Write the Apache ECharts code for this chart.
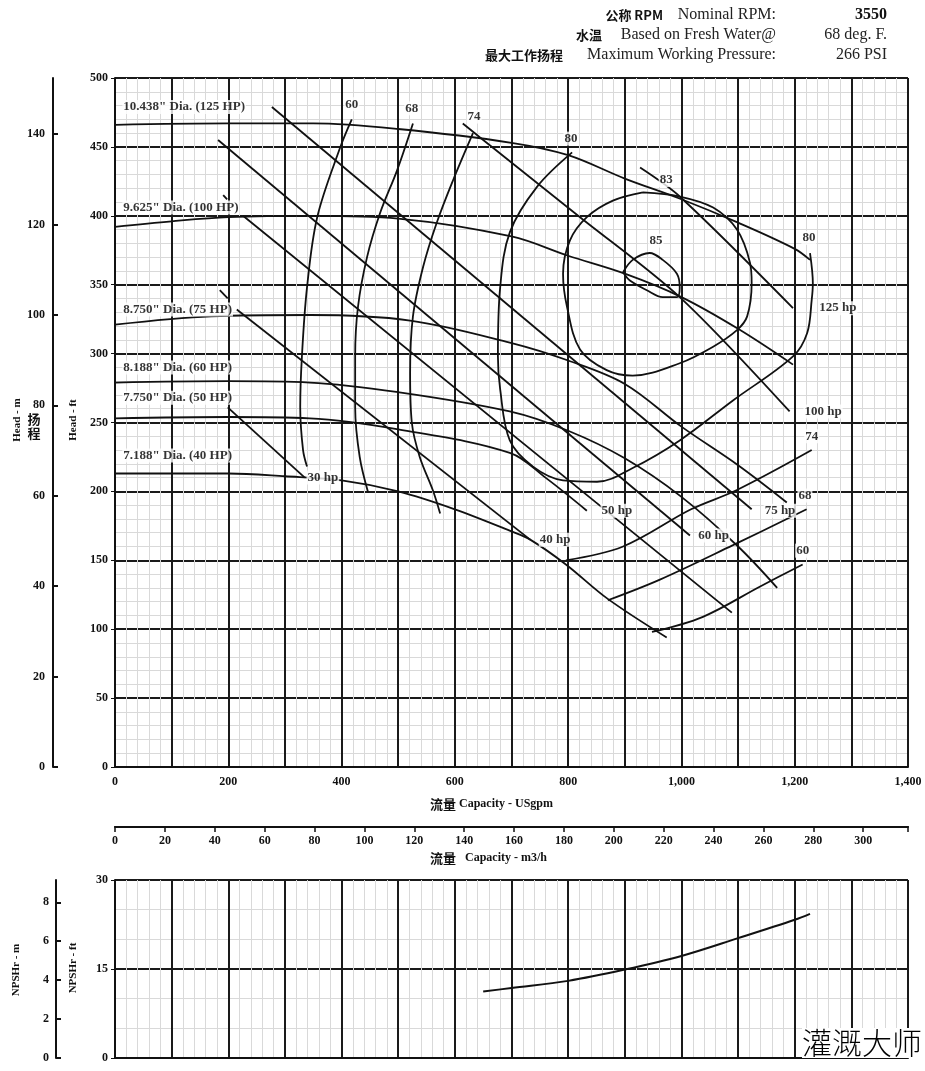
<!DOCTYPE html>
<html><head><meta charset="utf-8">
<script src="https://cdn.jsdelivr.net/npm/echarts@6/dist/echarts.min.js"></script>
<style>html,body{margin:0;padding:0;background:#fff}#c{width:925px;height:1071px}</style>
</head><body><div id="c"></div>
<script>
// ---- Head curves (US gpm, ft) ----
const dia10438 = [[0,466],[200,467],[350,467],[500,463],[700,453],[800,444],[900,427],[1000,412],[1100,395],[1200,376],[1227,368]];
const dia9625  = [[0,392],[100,396],[200,399],[350,400],[500,398],[700,385],[800,371],[900,358],[1000,341],[1100,318],[1197,292]];
const dia8750  = [[0,321],[170,327],[344,328],[521,324],[697,308],[800,295],[900,278],[1000,247],[1100,219],[1186,192]];
const dia8188  = [[0,279],[200,280],[344,279],[500,272],[697,258],[800,244],[900,224],[1000,196],[1100,160],[1169,130]];
const dia7750  = [[0,253],[200,254],[344,253],[500,245],[697,228],[760,210],[833,186]];
const dia7188  = [[0,213],[200,213],[300,211],[400,208],[500,200],[600,187],[700,171],[733,165],[796,147],[870,122],[974,94]];
// ---- Power lines ----
const hp30  = [[199,261],[335,210]];
const hp40  = [[215,332],[733,165]];
const hp50  = [[226,400],[849,192],[1089,112]];
const hp60  = [[182,455],[1015,168]];
const hp75  = [[277,479],[1124,187]];
const hp100 = [[614,467],[644,457],[821,399],[997,341],[1191,258]];
const hp125 = [[927,435],[997,414],[1197,333]];
// label leader ticks
const tick9625 = [[191,415],[198,412]];
const tick8750 = [[185,346],[199,340]];
// ---- Efficiency contours (%) ----
const eff60L = [[418,470],[397,449],[357,399],[339,348],[330,298],[327,261],[332,230],[339,218]];
const eff60R = [[948,98],[1038,109],[1139,131],[1214,147]];
const eff68L = [[526,467],[498,433],[468,402],[445,370],[429,334],[424,298],[424,261],[432,225],[447,199]];
const eff68R = [[870,121],[962,136],[1091,161],[1221,187]];
const eff74L = [[632,460],[597,426],[568,395],[544,363],[526,327],[521,286],[524,250],[538,225],[561,201],[574,184]];
const eff74R = [[796,150],[897,160],[1017,187],[1098,201],[1230,230]];
const eff80  = [[807,446],[745,421],[697,388],[680,348],[676,298],[680,274],[697,237],[738,218],[791,208],[851,207],[914,217],[997,237],[1091,266],[1197,298],[1222,315],[1230,339],[1232,351],[1227,373]];
const eff83  = [[932,417],[997,414],[1056,406],[1098,390],[1121,366],[1124,351],[1116,327],[1098,317],[1056,305],[997,293],[914,284],[868,288],[821,303],[798,334],[791,358],[803,382],[833,399],[879,411],[932,417]];
const eff85  = [[897,359],[914,368],[944,373],[967,368],[992,358],[997,348],[992,341],[967,341],[939,346],[909,353],[897,359]];
// ---- NPSHr (US gpm, ft) ----
const npshr = [[650,11.2],[700,11.8],[800,13.0],[900,14.9],[1000,17.2],[1100,20.2],[1200,23.3],[1227,24.3]];
// ---- Labels ----
const diaLabels = [['10.438" Dia. (125 HP)',12,479],['9.625" Dia. (100 HP)',12,406],['8.750" Dia. (75 HP)',12,332],['8.188" Dia. (60 HP)',12,290],['7.750" Dia. (50 HP)',12,268],['7.188" Dia. (40 HP)',12,226]];
const hpLabels = [['30 hp',367,210],['40 hp',777,165],['50 hp',886,186],['60 hp',1057,168],['75 hp',1174,186],['100 hp',1250,258],['125 hp',1276,333]];
const effLabels = [['60',418,481],['68',524,478],['74',634,472],['80',805,456],['83',973,426],['85',955,382],['80',1225,384],['74',1230,240],['68',1218,197],['60',1214,157]];
// ---- Axis ticks ----
const headMTicks = [0,20,40,60,80,100,120,140];
const npshMTicks = [0,2,4,6,8];
const GPM_PER_M3H = 4.40287;
const FT_PER_M = 3.28084;

const SERIF = '"Liberation Serif","DejaVu Serif",serif';
const CJK = '"Noto Sans CJK SC",sans-serif';
const chart = echarts.init(document.getElementById('c'), null, {renderer:'canvas'});

function curve(d, smooth){
  return {type:'line', xAxisIndex:0, yAxisIndex:0, data:d, showSymbol:false, symbol:'none',
    smooth: smooth===undefined?0.35:smooth, lineStyle:{color:'#111', width:1.8}, silent:true, z:3, animation:false};
}
function labelSeries(arr, pos, fs){
  return {type:'scatter', xAxisIndex:0, yAxisIndex:0, symbol:'circle', symbolSize:1, itemStyle:{color:'rgba(0,0,0,0)'}, silent:true, z:10, animation:false,
    data: arr.map(a=>({value:[a[1],a[2]], name:a[0]})),
    label:{show:true, position:pos, distance:0, formatter:p=>p.name, fontFamily:SERIF, fontWeight:'bold', fontSize:fs, color:'#000',
      backgroundColor:'#fff', padding:[1,1,0,1]}};
}
const majorLine = {show:true, lineStyle:{color:'#1a1a1a', width:2}};
const minorLine = {show:true, lineStyle:{color:'#d9d9d9', width:1}};
const axLbl = {fontFamily:SERIF, fontWeight:'bold', fontSize:12, color:'#111'};

const option = {
  backgroundColor:'#fff',
  animation:false,
  grid:[
    {left:115, top:78, width:793, height:689},
    {left:115, top:826, width:793, height:1},
    {left:115, top:880, width:793, height:178}
  ],
  xAxis:[
    {gridIndex:0, type:'value', min:0, max:1400, interval:100,
      axisLine:{show:true, lineStyle:{color:'#111', width:2}}, axisTick:{show:false},
      axisLabel:Object.assign({}, axLbl, {margin:9, formatter:v=> v%200===0 ? (v>=1000? Math.floor(v/1000)+','+String(v%1000).padStart(3,'0') : String(v)) : ''}),
      splitLine:majorLine, minorTick:{show:false, splitNumber:5}, minorSplitLine:minorLine},
    {gridIndex:1, type:'value', min:0, max:1400/GPM_PER_M3H, interval:20,
      axisLine:{show:true, lineStyle:{color:'#111', width:2}}, axisTick:{show:true, length:5, lineStyle:{color:'#111', width:1.5}},
      axisLabel:Object.assign({}, axLbl, {margin:8, formatter:v=> (v%20===0 && v<=300) ? String(v) : ''}),
      splitLine:{show:false}},
    {gridIndex:2, type:'value', min:0, max:1400, interval:100,
      axisLine:{show:true, lineStyle:{color:'#111', width:2}}, axisTick:{show:false}, axisLabel:{show:false},
      splitLine:majorLine, minorTick:{show:false, splitNumber:5}, minorSplitLine:minorLine},
    {gridIndex:1, type:'value', min:0, max:1400/GPM_PER_M3H, interval:20,
      axisLine:{show:false}, axisTick:{show:true, inside:true, length:5, lineStyle:{color:'#111', width:1.5}},
      axisLabel:{show:false}, splitLine:{show:false}}
  ],
  yAxis:[
    {gridIndex:0, type:'value', min:0, max:500, interval:50,
      axisLine:{show:true, lineStyle:{color:'#111', width:2}}, axisTick:{show:true, length:4, lineStyle:{color:'#111'}},
      axisLabel:Object.assign({}, axLbl, {margin:7}),
      splitLine:majorLine, minorTick:{show:false, splitNumber:5}, minorSplitLine:minorLine},
    {gridIndex:0, type:'value', position:'left', offset:62, min:0, max:500/FT_PER_M,
      axisLine:{show:true, lineStyle:{color:'#111', width:2}},
      axisTick:{show:true, inside:true, length:5, customValues:headMTicks, lineStyle:{color:'#111', width:2}},
      axisLabel:Object.assign({}, axLbl, {margin:8, customValues:headMTicks}),
      splitLine:{show:false}},
    {gridIndex:1, type:'value', min:0, max:1, show:false},
    {gridIndex:2, type:'value', min:0, max:30, interval:15,
      axisLine:{show:true, lineStyle:{color:'#111', width:2}}, axisTick:{show:true, length:4},
      axisLabel:Object.assign({}, axLbl, {margin:7}),
      splitLine:majorLine, minorTick:{show:false, splitNumber:3}, minorSplitLine:minorLine},
    {gridIndex:2, type:'value', position:'left', offset:59, min:0, max:30/FT_PER_M,
      axisLine:{show:true, lineStyle:{color:'#111', width:2}},
      axisTick:{show:true, inside:true, length:5, customValues:npshMTicks, lineStyle:{color:'#111', width:2}},
      axisLabel:Object.assign({}, axLbl, {margin:7, customValues:npshMTicks}),
      splitLine:{show:false}}
  ],
  series:[
    curve(dia10438), curve(dia9625), curve(dia8750), curve(dia8188), curve(dia7750), curve(dia7188),
    curve(hp30,false), curve(hp40,false), curve(hp50,false), curve(hp60,false), curve(hp75,false), curve(hp100,0.3), curve(hp125,0.3),
    curve(tick9625,false), curve(tick8750,false),
    curve(eff60L), curve(eff60R), curve(eff68L), curve(eff68R), curve(eff74L), curve(eff74R),
    curve(eff80), curve(eff83), curve(eff85),
    {type:'line', xAxisIndex:2, yAxisIndex:3, data:npshr, showSymbol:false, symbol:'none', smooth:0.35,
      lineStyle:{color:'#111', width:2}, silent:true, animation:false},
    labelSeries(diaLabels, 'right', 13),
    labelSeries(hpLabels, 'inside', 13),
    labelSeries(effLabels, 'inside', 13)
  ],
  graphic:[
    {type:'text', x:663, y:15, style:{text:'公称 RPM', font:'bold 13px '+CJK, fill:'#111', align:'right', verticalAlign:'middle'}},
    {type:'text', x:776, y:15, style:{text:'Nominal RPM:', font:'16px '+SERIF, fill:'#222', align:'right', verticalAlign:'middle'}},
    {type:'text', x:887, y:15, style:{text:'3550', font:'bold 16px '+SERIF, fill:'#111', align:'right', verticalAlign:'middle'}},
    {type:'text', x:602, y:35, style:{text:'水温', font:'bold 13px '+CJK, fill:'#111', align:'right', verticalAlign:'middle'}},
    {type:'text', x:776, y:35, style:{text:'Based on Fresh Water@', font:'16px '+SERIF, fill:'#222', align:'right', verticalAlign:'middle'}},
    {type:'text', x:887, y:35, style:{text:'68 deg. F.', font:'16px '+SERIF, fill:'#222', align:'right', verticalAlign:'middle'}},
    {type:'text', x:563, y:55, style:{text:'最大工作扬程', font:'bold 13px '+CJK, fill:'#111', align:'right', verticalAlign:'middle'}},
    {type:'text', x:776, y:55, style:{text:'Maximum Working Pressure:', font:'16px '+SERIF, fill:'#222', align:'right', verticalAlign:'middle'}},
    {type:'text', x:887, y:55, style:{text:'266 PSI', font:'16px '+SERIF, fill:'#222', align:'right', verticalAlign:'middle'}},
    {type:'text', x:17, y:420, rotation:Math.PI/2, style:{text:'Head - m', font:'bold 11px '+SERIF, fill:'#111', align:'center', verticalAlign:'middle'}},
    {type:'text', x:34, y:426, style:{text:'扬\n程', font:'bold 13px '+CJK, lineHeight:14, fill:'#111', align:'center', verticalAlign:'middle'}},
    {type:'text', x:73, y:420, rotation:Math.PI/2, style:{text:'Head - ft', font:'bold 11px '+SERIF, fill:'#111', align:'center', verticalAlign:'middle'}},
    {type:'text', x:443, y:804, style:{text:'流量', font:'bold 13px '+CJK, fill:'#111', align:'center', verticalAlign:'middle'}},
    {type:'text', x:459, y:804, style:{text:'Capacity - USgpm', font:'bold 12px '+SERIF, fill:'#111', align:'left', verticalAlign:'middle'}},
    {type:'text', x:443, y:858, style:{text:'流量', font:'bold 13px '+CJK, fill:'#111', align:'center', verticalAlign:'middle'}},
    {type:'text', x:465, y:858, style:{text:'Capacity - m3/h', font:'bold 12px '+SERIF, fill:'#111', align:'left', verticalAlign:'middle'}},
    {type:'text', x:16, y:970, rotation:Math.PI/2, style:{text:'NPSHr - m', font:'bold 11px '+SERIF, fill:'#111', align:'center', verticalAlign:'middle'}},
    {type:'text', x:73, y:968, rotation:Math.PI/2, style:{text:'NPSHr - ft', font:'bold 11px '+SERIF, fill:'#111', align:'center', verticalAlign:'middle'}},
    {type:'text', x:862, y:1043, z:100, style:{text:'灌溉大师', font:'300 30px '+CJK, fill:'#000', align:'center', verticalAlign:'middle', backgroundColor:'#fff'}}
  ]
};
chart.setOption(option);
</script>
</body></html>
